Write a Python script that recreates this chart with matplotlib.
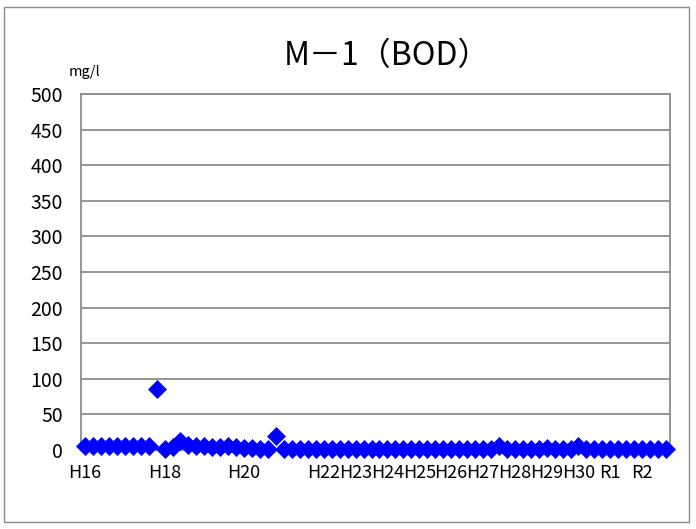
import matplotlib
matplotlib.use("Agg")
import matplotlib.pyplot as plt
from matplotlib.patches import Rectangle

plt.rcParams['font.family'] = ['Noto Sans CJK JP', 'DejaVu Sans']

# ---- data ----
title = "M－1（BOD）"
unit_label = "mg/l"

values = [6, 5, 6, 6, 5, 6, 5, 6, 6, 85,
          1, 4, 12, 7, 5, 5, 4, 4, 5, 4,
          3, 3, 2, 1, 20, 2, 1, 2, 1, 2,
          2, 1, 2, 2, 1, 2, 1, 2, 2, 1,
          2, 1, 1, 2, 2, 1, 2, 2, 1, 2,
          1, 2, 6, 2, 1, 2, 1, 2, 3, 1,
          2, 2, 5, 2, 1, 2, 1, 2, 1, 2,
          1, 2, 1, 2]

tick_index = [0, 10, 20, 30, 34, 38, 42, 46, 50, 54, 58, 62, 66, 70]
tick_names = ["H16", "H18", "H20", "H22", "H23", "H24", "H25", "H26",
              "H27", "H28", "H29", "H30", "R1", "R2"]
y_ticks = [0, 50, 100, 150, 200, 250, 300, 350, 400, 450, 500]

# ---- figure ----
W, H = 696, 529
fig = plt.figure(figsize=(W / 100, H / 100), dpi=100)
fig.patch.set_facecolor("white")

# outer chart border
fig.patches.append(Rectangle((4 / W, 1 - 522 / H), (689 - 4) / W, (522 - 7) / H,
                             transform=fig.transFigure, fill=False,
                             edgecolor="#8c8c8c", linewidth=1.0))

left, right, top, bottom = 81, 670, 94, 450
ax = fig.add_axes([left / W, 1 - bottom / H, (right - left) / W, (bottom - top) / H])

x = list(range(len(values)))
ax.plot(x, values, linestyle="none", marker="D", markersize=8.8,
        color="#0000FF", markeredgecolor="#0000FF", markeredgewidth=0.5,
        zorder=3, clip_on=False)

ax.set_xlim(-0.5, len(values) - 0.5)
ax.set_ylim(0, 500)
ax.set_yticks(y_ticks)
ax.set_yticklabels([str(v) for v in y_ticks])
ax.set_xticks(tick_index)
ax.set_xticklabels(tick_names)

ax.grid(axis="y", color="#8c8c8c", linewidth=1.3)
ax.set_axisbelow(True)
for s in ax.spines.values():
    s.set_color("#8c8c8c")
    s.set_linewidth(1.3)

ax.tick_params(axis="both", length=0, colors="black")
ax.tick_params(axis="y", pad=13, labelsize=14)
ax.tick_params(axis="x", pad=10, labelsize=13)

fig.text(387 / W, 1 - 56 / H, title, ha="center", va="center", fontsize=23)
fig.text(84 / W, 1 - 72 / H, unit_label, ha="center", va="center", fontsize=10.5)

fig.savefig("out.png", dpi=100)
